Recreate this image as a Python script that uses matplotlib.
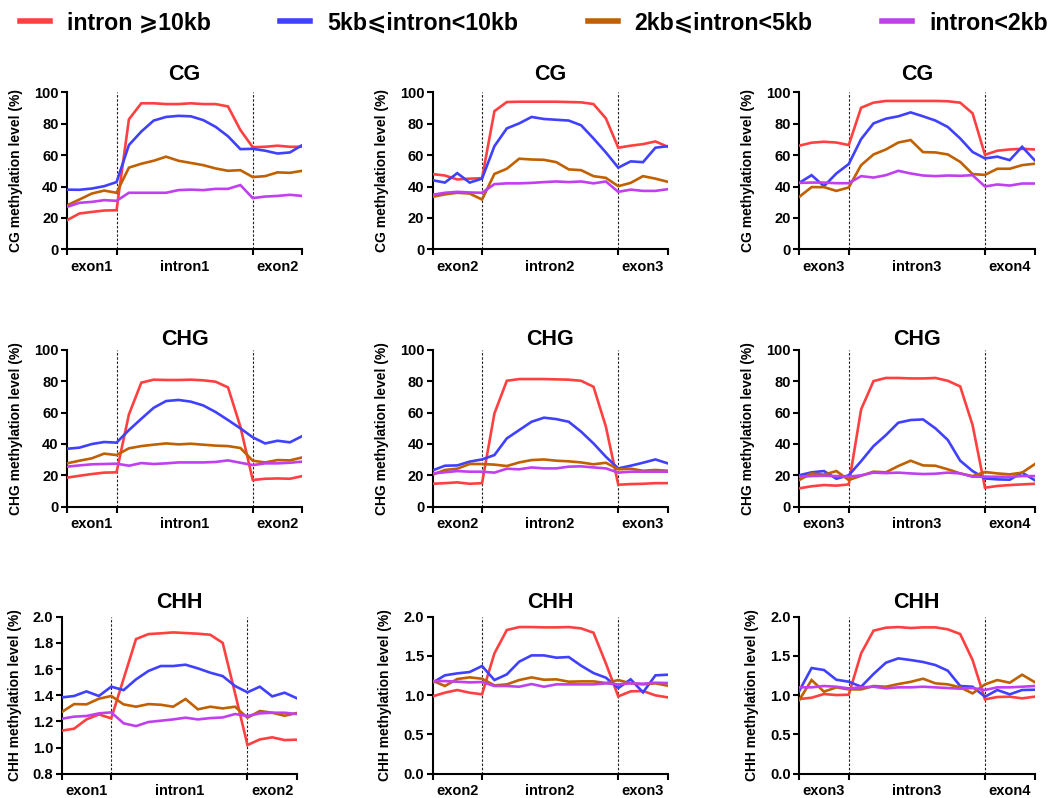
import numpy as np
import matplotlib
matplotlib.use("Agg")
import matplotlib.pyplot as plt
from matplotlib.font_manager import FontProperties

plt.rcParams['font.family'] = ['Liberation Sans', 'DejaVu Sans']
plt.rcParams['font.weight'] = 'bold'
plt.rcParams['axes.titleweight'] = 'bold'
plt.rcParams['axes.labelweight'] = 'bold'

series_labels = ["intron \u2a7e10kb", "5kb\u2a7dintron<10kb", "2kb\u2a7dintron<5kb", "intron<2kb"]
series_colors = ["#FF4040", "#4040FF", "#C06000", "#C040F0"]

contexts = ["CG", "CHG", "CHH"]
x_labels = [["exon1", "intron1", "exon2"], ["exon2", "intron2", "exon3"], ["exon3", "intron3", "exon4"]]

# ---- CG ----
cg1_ge10 = [18.5, 22.8, 23.8, 24.7, 24.9, 82.8, 93, 93, 92.5, 92.5, 93, 92.5, 92.5, 91, 76, 65, 65.3, 66, 65.3, 65.3]
cg1_5to10 = [38, 37.9, 38.7, 40.2, 42.8, 66.4, 75, 82, 84.3, 85, 84.7, 82.3, 78, 72, 63.8, 64, 62.8, 61, 61.7, 66.4]
cg1_2to5 = [28, 31.7, 35.5, 37.4, 36, 52, 54.5, 56.4, 59, 56.4, 55, 53.6, 51.5, 50, 50.4, 46, 46.6, 49, 48.7, 50]
cg1_lt2 = [27, 29.6, 30.2, 31.3, 30.9, 36, 36, 36, 36, 37.7, 38, 37.7, 38.5, 38.5, 40.9, 32.6, 33.6, 34, 34.7, 34]

cg2_ge10 = [47.9, 47, 44.5, 45, 45.3, 88, 93.8, 94, 94, 94, 94, 93.8, 93.6, 92.5, 83.4, 64.7, 66, 67, 68.7, 65.3]
cg2_5to10 = [44, 42.5, 48.5, 42.5, 45, 65.7, 77, 80.2, 84.3, 83, 82.5, 82, 79, 70.6, 61.7, 52, 56, 55.5, 64.7, 65.7]
cg2_2to5 = [33.4, 35, 36, 35.5, 31.7, 48, 51.3, 57.7, 57.2, 57, 55.5, 50.9, 50.4, 46.6, 45.5, 40.2, 42.3, 46.6, 45, 43]
cg2_lt2 = [34.7, 36, 36.6, 36.2, 36, 41.5, 42, 42, 42.3, 42.8, 43.2, 42.8, 43.2, 42, 43.2, 36.6, 38, 37.2, 37.2, 38.3]

cg3_ge10 = [66, 67.9, 68.5, 68, 66.4, 90.2, 93.4, 94.5, 94.5, 94.5, 94.5, 94.5, 94.3, 93.4, 86.6, 60.2, 62.8, 63.6, 64, 63.6]
cg3_5to10 = [42.3, 47.2, 40.2, 48.3, 54.3, 70.2, 80.2, 83.2, 84.7, 87.2, 84.7, 82, 77.9, 70.6, 62, 57.9, 59, 56.8, 65.3, 56.8]
cg3_2to5 = [33.4, 39.6, 39.6, 37.2, 39.4, 53.6, 60.4, 63.6, 68, 69.6, 61.9, 61.7, 60.4, 55.7, 47.9, 47.4, 51.3, 51.3, 53.6, 54.5]
cg3_lt2 = [42.3, 42.5, 42.5, 42.1, 42.1, 46.6, 45.7, 47.2, 50, 48.3, 47, 46.6, 47, 46.8, 47.2, 40, 41.3, 40.6, 41.9, 41.9]

# ---- CHG ----
chg1_ge10 = [18.5, 19.7, 20.8, 21.7, 21.9, 58.8, 79, 80.9, 80.7, 80.7, 80.9, 80.5, 79.6, 76, 51, 17, 17.8, 18, 17.8, 19.5]
chg1_5to10 = [36.9, 37.6, 39.9, 41.2, 40.8, 48.8, 56, 63, 67.3, 68, 66.9, 64.5, 60.3, 55.2, 49.9, 44.2, 40.3, 42, 41, 45]
chg1_2to5 = [27.6, 29.3, 30.8, 33.8, 32.9, 37.2, 38.6, 39.5, 40.3, 39.7, 40.1, 39.5, 38.9, 38.6, 37.4, 29.3, 28.2, 29.7, 29.5, 31.4]
chg1_lt2 = [25.5, 26.3, 27, 27.2, 27.4, 26.1, 27.8, 27.2, 27.6, 28.2, 28.2, 28.2, 28.5, 29.5, 28, 26.5, 27.6, 27.6, 28, 28.7]

chg2_ge10 = [14.6, 15, 15.5, 14.6, 15, 59.4, 80.2, 81.3, 81.3, 81.3, 81.1, 80.9, 80.2, 76.4, 51, 14, 14.4, 14.6, 15, 15]
chg2_5to10 = [23.1, 26.1, 26.3, 28.7, 30.1, 32.9, 43.5, 48.8, 54.1, 56.7, 55.8, 54.1, 47.8, 40.3, 31.8, 24.4, 26.1, 28, 30.1, 27.6]
chg2_2to5 = [20.4, 23.4, 24.2, 27.2, 27.2, 26.8, 25.9, 28.2, 29.7, 30.1, 29.3, 28.9, 28.2, 27, 28, 23.8, 24.2, 22.9, 23.4, 22.9]
chg2_lt2 = [21.2, 21.9, 22.7, 22.3, 22.3, 21.7, 24.2, 23.8, 25, 24.4, 24.4, 25.5, 25.7, 25, 24.4, 21.7, 22.3, 22.3, 22.3, 22.3]

chg3_ge10 = [11.7, 13, 13.8, 13.4, 14.2, 62, 80, 82, 82, 81.7, 81.7, 82, 80.2, 76.6, 52, 12.1, 13.2, 13.8, 14.2, 14.6]
chg3_5to10 = [20, 21.9, 22.7, 17.8, 20, 29, 38.6, 45.6, 53.5, 55.2, 55.6, 49.9, 42.5, 29.3, 22.7, 18, 17.4, 17.2, 21.7, 17]
chg3_2to5 = [17, 21.2, 20.4, 22.7, 17, 19.7, 22.3, 21.9, 25.9, 29.3, 26.3, 26.1, 23.8, 21.2, 19.5, 22.1, 21.2, 20.6, 21.7, 27]
chg3_lt2 = [19.1, 19.5, 19.7, 19.5, 19.1, 20, 21.7, 21.4, 21.7, 21.2, 20.8, 21, 21.7, 21.2, 19.1, 19.1, 19.1, 19.1, 19.5, 19.5]

# ---- CHH ----
chh1_ge10 = [1.129, 1.144, 1.215, 1.253, 1.223, 1.526, 1.829, 1.867, 1.873, 1.88, 1.875, 1.87, 1.862, 1.80, 1.414, 1.019, 1.062, 1.078, 1.057, 1.06]
chh1_5to10 = [1.383, 1.394, 1.429, 1.394, 1.465, 1.439, 1.521, 1.585, 1.623, 1.623, 1.633, 1.605, 1.572, 1.546, 1.47, 1.422, 1.465, 1.391, 1.419, 1.376]
chh1_2to5 = [1.271, 1.332, 1.33, 1.373, 1.394, 1.33, 1.312, 1.332, 1.327, 1.312, 1.371, 1.292, 1.312, 1.299, 1.312, 1.228, 1.279, 1.266, 1.243, 1.264]
chh1_lt2 = [1.22, 1.236, 1.241, 1.261, 1.269, 1.185, 1.164, 1.195, 1.205, 1.215, 1.228, 1.215, 1.225, 1.23, 1.256, 1.241, 1.261, 1.266, 1.266, 1.256]

chh2_ge10 = [0.985, 1.032, 1.066, 1.032, 1.011, 1.533, 1.83, 1.868, 1.868, 1.864, 1.864, 1.868, 1.851, 1.796, 1.405, 0.985, 1.049, 1.053, 0.998, 0.972]
chh2_5to10 = [1.159, 1.253, 1.278, 1.295, 1.372, 1.193, 1.265, 1.427, 1.507, 1.507, 1.478, 1.486, 1.376, 1.282, 1.223, 1.091, 1.202, 1.036, 1.253, 1.261]
chh2_2to5 = [1.185, 1.117, 1.206, 1.227, 1.21, 1.125, 1.138, 1.193, 1.227, 1.197, 1.202, 1.172, 1.176, 1.176, 1.155, 1.193, 1.151, 1.138, 1.151, 1.121]
chh2_lt2 = [1.18, 1.18, 1.172, 1.163, 1.168, 1.117, 1.117, 1.108, 1.142, 1.108, 1.138, 1.138, 1.138, 1.138, 1.151, 1.138, 1.151, 1.146, 1.159, 1.155]

chh3_ge10 = [0.951, 0.968, 1.015, 1.002, 1.006, 1.533, 1.822, 1.86, 1.868, 1.856, 1.864, 1.864, 1.839, 1.779, 1.448, 0.947, 0.977, 0.981, 0.96, 0.981]
chh3_5to10 = [1.053, 1.346, 1.321, 1.197, 1.172, 1.108, 1.27, 1.414, 1.469, 1.448, 1.423, 1.384, 1.312, 1.117, 1.108, 0.981, 1.066, 1.011, 1.066, 1.07]
chh3_2to5 = [0.938, 1.193, 1.045, 1.1, 1.074, 1.074, 1.117, 1.108, 1.142, 1.17, 1.21, 1.151, 1.138, 1.1, 1.023, 1.138, 1.193, 1.159, 1.261, 1.168]
chh3_lt2 = [1.1, 1.1, 1.117, 1.108, 1.087, 1.1, 1.108, 1.087, 1.1, 1.1, 1.108, 1.1, 1.091, 1.083, 1.091, 1.066, 1.1, 1.1, 1.108, 1.117]

panels = [
    [[cg1_ge10, cg1_5to10, cg1_2to5, cg1_lt2],
     [cg2_ge10, cg2_5to10, cg2_2to5, cg2_lt2],
     [cg3_ge10, cg3_5to10, cg3_2to5, cg3_lt2]],
    [[chg1_ge10, chg1_5to10, chg1_2to5, chg1_lt2],
     [chg2_ge10, chg2_5to10, chg2_2to5, chg2_lt2],
     [chg3_ge10, chg3_5to10, chg3_2to5, chg3_lt2]],
    [[chh1_ge10, chh1_5to10, chh1_2to5, chh1_lt2],
     [chh2_ge10, chh2_5to10, chh2_2to5, chh2_lt2],
     [chh3_ge10, chh3_5to10, chh3_2to5, chh3_lt2]],
]

# boundaries (bin index) of exon/intron
boundary_bins = [4, 15]
n_bins = 20

yticks_pct = [0, 20, 40, 60, 80, 100]
yticks_chh_a = [0.8, 1.0, 1.2, 1.4, 1.6, 1.8, 2.0]
yticks_chh_b = [0.0, 0.5, 1.0, 1.5, 2.0]

fig = plt.figure(figsize=(10.48, 7.98), dpi=100)
W, H = 1048, 798
col_left = [67, 432.5, 799.2]
row_top = [92.3, 349.7, 616.7]
ax_w, ax_h = 235.3, 157
title_pads = [9, 2.5, 6]

x = np.arange(n_bins)
first_lines = None
for r in range(3):
    for c in range(3):
        left = col_left[c]
        if r == 2 and c == 0:
            left = 61.7
        ax = fig.add_axes([left / W, 1 - (row_top[r] + ax_h) / H, ax_w / W, ax_h / H])
        if r < 2:
            yt = yticks_pct
            ax.set_ylim(0, 100)
            ax.set_yticks(yt)
            ax.set_yticklabels([str(v) for v in yt])
        elif c == 0:
            yt = yticks_chh_a
            ax.set_ylim(0.8, 2.0)
            ax.set_yticks(yt)
            ax.set_yticklabels(["%.1f" % v for v in yt])
        else:
            yt = yticks_chh_b
            ax.set_ylim(0, 2.0)
            ax.set_yticks(yt)
            ax.set_yticklabels(["%.1f" % v for v in yt])
        ymin, ymax = ax.get_ylim()
        for b in boundary_bins:
            ax.plot([b, b], [ymin, ymax], color="#222222", lw=0.8,
                    linestyle=(0, (2.2, 1.6)), zorder=1)
        lines = []
        for s, vals in enumerate(panels[r][c]):
            ln, = ax.plot(x, vals, color=series_colors[s], lw=1.9,
                          label=series_labels[s], zorder=3, solid_joinstyle='miter')
            lines.append(ln)
        if first_lines is None:
            first_lines = lines
        ax.set_xlim(0, n_bins - 1)
        ax.set_xticks([0, boundary_bins[0], boundary_bins[1], n_bins - 1])
        ax.set_xticklabels([])
        ax.set_xticks([boundary_bins[0] / 2, (boundary_bins[0] + boundary_bins[1]) / 2,
                       (boundary_bins[1] + n_bins - 1) / 2], minor=True)
        ax.set_xticklabels(x_labels[c], minor=True, fontsize=10.5, fontweight='bold')
        ax.tick_params(axis='x', which='minor', length=0, pad=7.5)
        ax.tick_params(axis='both', which='major', length=4, width=1.5, direction='out',
                       labelsize=10.5, pad=2, color='black')
        for sp in ['top', 'right']:
            ax.spines[sp].set_visible(False)
        for sp in ['left', 'bottom']:
            ax.spines[sp].set_linewidth(1.5)
            ax.spines[sp].set_color('black')
        ax.set_title(contexts[r], fontsize=15.5, fontweight='bold', pad=title_pads[r])
        ax.set_ylabel(contexts[r] + " methylation level (%)", fontsize=10, fontweight='bold',
                      labelpad=8)

leg_prop = FontProperties(family=['Liberation Sans', 'DejaVu Sans'], weight='bold', size=16.7)
leg = fig.legend(first_lines, series_labels, ncol=4, loc='center left',
                 bbox_to_anchor=(20 / W, 1 - 23 / H), frameon=False, prop=leg_prop,
                 handlelength=1.3, handletextpad=0.72, columnspacing=3.0,
                 borderpad=0, borderaxespad=0)
for lh in leg.get_lines():
    lh.set_linewidth(4)

fig.savefig("out.png", dpi=100)
